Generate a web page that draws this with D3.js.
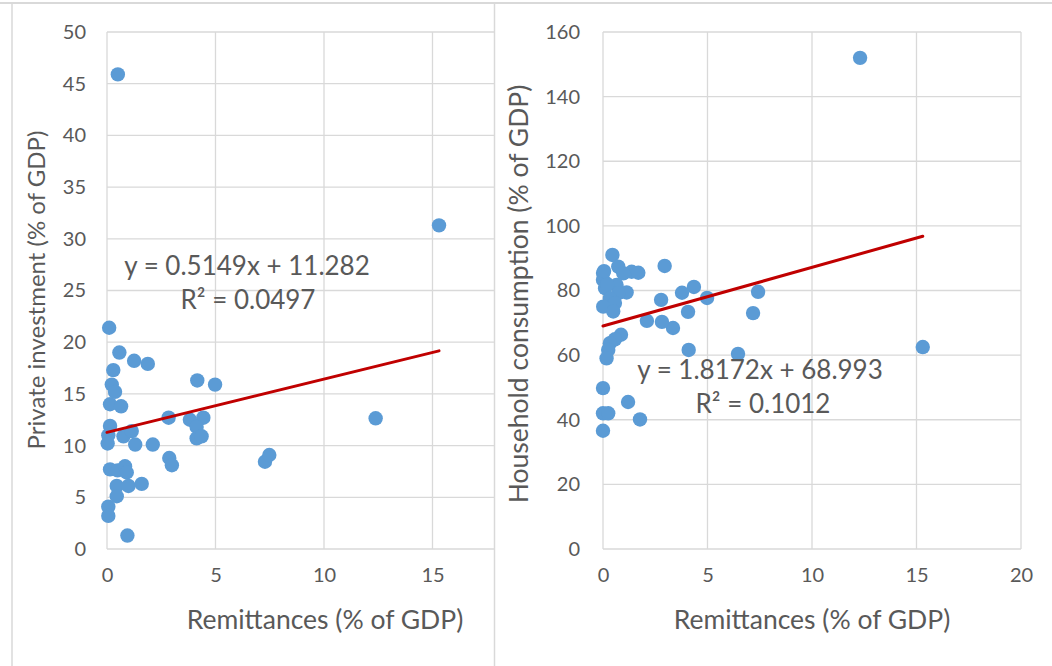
<!DOCTYPE html>
<html><head><meta charset="utf-8">
<script src="https://cdn.jsdelivr.net/npm/d3@7"></script>
<style>body{margin:0;background:#fff}svg{display:block}text{font-family:Lato,"Open Sans",sans-serif;fill:#595959}</style>
</head><body><svg id="c" width="1052" height="666"></svg>
<script>
// ---- data ----
const xTicksLeft = [0, 5, 10, 15];
const yTicksLeft = [0, 5, 10, 15, 20, 25, 30, 35, 40, 45, 50];
const xTicksRight = [0, 5, 10, 15, 20];
const yTicksRight = [0, 20, 40, 60, 80, 100, 120, 140, 160];
const xTitle = "Remittances (% of GDP)";
const yTitleLeft = "Private investment (% of GDP)";
const yTitleRight = "Household consumption (% of GDP)";
const leftX = [0.5, 15.3, 0.1, 0.57, 1.25, 1.88, 0.29, 0.22, 0.37, 4.16, 4.98, 0.14, 0.65, 2.84, 3.82, 4.44, 4.13, 4.13, 4.36, 0.14, 0.06, 0.03, 0.76, 1.14, 1.3, 2.11, 2.87, 2.99, 0.14, 0.49, 0.83, 0.91, 0.45, 0.99, 1.6, 0.45, 0.06, 0.06, 0.94, 7.28, 7.48, 12.38];
const leftY = [45.9, 31.3, 21.4, 19.0, 18.2, 17.9, 17.3, 15.9, 15.2, 16.3, 15.9, 14.0, 13.8, 12.7, 12.5, 12.7, 11.8, 10.7, 10.9, 11.9, 11.0, 10.2, 10.9, 11.4, 10.1, 10.1, 8.8, 8.1, 7.7, 7.6, 8.0, 7.4, 6.1, 6.1, 6.3, 5.1, 4.1, 3.2, 1.3, 8.44, 9.09, 12.64];
const rightX = [12.3, 15.3, 7.42, 7.18, 6.46, 4.98, 4.35, 4.07, 4.1, 3.78, 3.35, 2.82, 2.78, 2.95, 2.1, 1.2, 1.77, 0.0, 0.0, 0.25, 0.0, 0.45, 0.0, 0.73, 1.37, 1.69, 0.97, 0.0, 0.65, 0.1, 1.13, 0.73, 0.33, 0.57, 0.01, 0.49, 0.86, 0.57, 0.33, 0.25, 0.17, 0.2, 0.05];
const rightY = [152, 62.5, 79.6, 73, 60.4, 77.7, 81.1, 73.4, 61.6, 79.3, 68.4, 70.3, 77.1, 87.6, 70.6, 45.5, 40.1, 49.8, 42, 42, 36.6, 91, 85.4, 87.4, 85.8, 85.5, 85.3, 83.3, 81.7, 80.7, 79.4, 79.2, 77.6, 76.1, 75, 73.5, 66.3, 64.9, 63.7, 61.6, 59, 82, 86];
const trendLeft = {slope: 0.5149, intercept: 11.282, eq: "y = 0.5149x + 11.282", r2: "R² = 0.0497"};
const trendRight = {slope: 1.8172, intercept: 68.993, eq: "y = 1.8172x + 68.993", r2: "R² = 0.1012"};

const svg = d3.select("#c");
svg.append("rect").attr("width",1052).attr("height",666).attr("fill","#fff");

function panel(g, cfg){
  const x = d3.scaleLinear().domain([0,20]).range([cfg.x0, cfg.x1]);
  const y = d3.scaleLinear().domain(cfg.ydom).range([549, 32]);
  g.append("g").selectAll("line").data(cfg.yTicks).join("line")
    .attr("x1", cfg.x0).attr("x2", cfg.x1).attr("y1", d=>y(d)).attr("y2", d=>y(d))
    .attr("stroke","#d9d9d9").attr("stroke-width",1.3);
  g.append("g").selectAll("line").data([0,5,10,15,20]).join("line")
    .attr("x1", d=>x(d)).attr("x2", d=>x(d)).attr("y1", 32).attr("y2", 549)
    .attr("stroke","#d9d9d9").attr("stroke-width",1.3);
  const yAxis = d3.axisLeft(y).tickValues(cfg.yTicks).tickSize(0).tickPadding(cfg.ypad);
  const ya = g.append("g").attr("transform",`translate(${cfg.x0},0)`).call(yAxis);
  ya.select(".domain").remove();
  ya.selectAll("text").style("font-size","20px").attr("fill","#595959");
  const xAxis = d3.axisBottom(x).tickValues(cfg.xTicks).tickSize(0).tickPadding(19);
  const xa = g.append("g").attr("transform",`translate(0,549)`).call(xAxis);
  xa.select(".domain").remove();
  xa.selectAll("text").style("font-size","20px").attr("fill","#595959");
  g.append("g").selectAll("circle").data(cfg.xs.map((v,i)=>[v,cfg.ys[i]])).join("circle")
    .attr("cx", d=>x(d[0])).attr("cy", d=>y(d[1])).attr("r",7.2).attr("fill","#5b9bd5");
  const xmax = d3.max(cfg.xs);
  g.append("line").attr("x1",x(0)).attr("y1",y(cfg.trend.intercept))
    .attr("x2",x(xmax)).attr("y2",y(cfg.trend.intercept+cfg.trend.slope*xmax))
    .attr("stroke","#c00000").attr("stroke-width",3).attr("stroke-linecap","round");
  g.append("text").attr("x",cfg.eqX).attr("y",cfg.eqY).attr("text-anchor","middle")
    .style("font-size","26px").text(cfg.trend.eq);
  g.append("text").attr("x",cfg.r2X).attr("y",cfg.eqY+34).attr("text-anchor","middle")
    .style("font-size","26px").text(cfg.trend.r2);
  g.append("text").attr("x",cfg.xtX).attr("y",629).attr("text-anchor","middle")
    .style("font-size","26.5px").text(xTitle);
  g.append("text").attr("transform",`translate(${cfg.ytX},${cfg.ytY}) rotate(-90)`).attr("text-anchor","middle")
    .style("font-size",cfg.ytSize).text(cfg.yTitle);
}

const gL = svg.append("g");
panel(gL, {x0:107, x1:541, ydom:[0,50], yTicks:yTicksLeft, xTicks:xTicksLeft, xs:leftX, ys:leftY, ypad:21,
  trend:trendLeft, eqX:247, eqY:275, r2X:248, xtX:325, ytX:45, ytY:290, ytSize:"24px", yTitle:yTitleLeft});

const gR = svg.append("g");
gR.append("rect").attr("x",494).attr("y",4).attr("width",560).attr("height",662).attr("fill","#fff");
panel(gR, {x0:603, x1:1021, ydom:[0,160], yTicks:yTicksRight, xTicks:xTicksRight, xs:rightX, ys:rightY, ypad:23,
  trend:trendRight, eqX:760, eqY:379, r2X:763, xtX:812, ytX:528, ytY:294, ytSize:"26.5px", yTitle:yTitleRight});

svg.append("line").attr("x1",0).attr("x2",1052).attr("y1",3).attr("y2",3).attr("stroke","#d9d9d9").attr("stroke-width",2);
svg.append("line").attr("x1",12).attr("x2",12).attr("y1",3).attr("y2",666).attr("stroke","#d9d9d9").attr("stroke-width",1.5);
svg.append("line").attr("x1",494.5).attr("x2",494.5).attr("y1",3).attr("y2",666).attr("stroke","#d9d9d9").attr("stroke-width",1.5);
</script></body></html>
